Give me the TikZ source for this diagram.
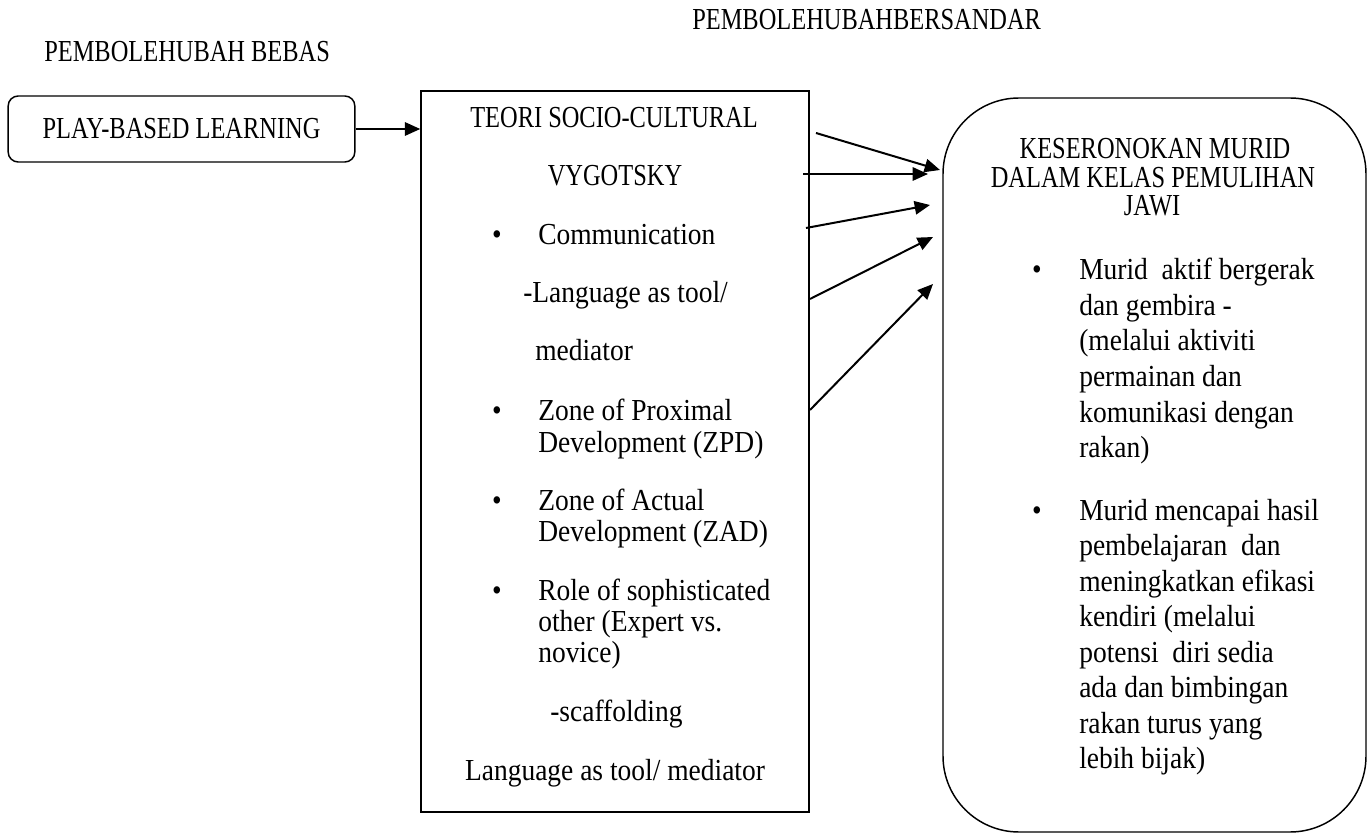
\documentclass[tikz,border=0pt]{standalone}
\usepackage{fontspec}
\setmainfont{Liberation Serif}[FakeStretch=0.9]
\newfontfamily\capsfont{Liberation Serif}[FakeStretch=0.8]
\usetikzlibrary{positioning, arrows.meta, calc}

\begin{document}
\begin{tikzpicture}[x=0.75pt, y=-0.75pt,
	txt/.style={inner sep=0pt, font=\fontsize{22.9}{24}\selectfont},
	caps/.style={font=\capsfont\fontsize{22.9}{24}\selectfont},
	lefttxt/.style={txt, anchor=base west},
	midtxt/.style={txt, anchor=base},
	arr/.style={-{Triangle[length=11.5pt, width=10pt]}, line width=1.5pt}]
	\useasboundingbox (0,0) rectangle (1372,834);
	
	% Headings
	\node[lefttxt, caps] (bebas) at (44,62) {PEMBOLEHUBAH BEBAS};
	\node[lefttxt, caps] (bersandar) at (692,30) {PEMBOLEHUBAHBERSANDAR};
	
	% Boxes
	\node[txt, caps, draw, line width=1.1pt, rounded corners=7.5pt, minimum width=260pt,
	minimum height=49.5pt] (play) at (181.5,129) {PLAY-BASED LEARNING};
	
	\node[draw, line width=1.1pt, minimum width=291pt,
	minimum height=540.75pt] (teori) at (615,451.5) {};
	
	\node[draw, line width=1.1pt, rounded corners=57pt, minimum width=317.25pt,
	minimum height=550.5pt] (seronok) at (1154.5,465) {};
	
	% Middle box text
	\node[midtxt, caps] (t1) at (614,128) {TEORI SOCIO-CULTURAL};
	\node[midtxt, caps] (t2) at (615,186) {VYGOTSKY};
	\node[midtxt] (b1) at (497,245) {•};
	\node[lefttxt] (t3) at (538,245) {Communication};
	\node[lefttxt] (t4) at (523,303) {-Language as tool/};
	\node[lefttxt] (t5) at (535,361) {mediator};
	\node[midtxt] (b2) at (497,421) {•};
	\node[lefttxt] (t6) at (538,421) {Zone of Proximal};
	\node[lefttxt] (t7) at (538,452) {Development (ZPD)};
	\node[midtxt] (b3) at (497,510) {•};
	\node[lefttxt] (t8) at (538,510) {Zone of Actual};
	\node[lefttxt] (t9) at (538,541) {Development (ZAD)};
	\node[midtxt] (b4) at (497,600) {•};
	\node[lefttxt] (t10) at (538,600) {Role of sophisticated};
	\node[lefttxt] (t11) at (538,631) {other (Expert vs.};
	\node[lefttxt] (t12) at (538,662) {novice)};
	\node[lefttxt] (t13) at (550,721) {-scaffolding};
	\node[midtxt] (t14) at (615,780) {Language as tool/ mediator};
	
	% Right box text
	\node[midtxt, caps] (r1) at (1155,159) {KESERONOKAN MURID};
	\node[midtxt, caps] (r2) at (1153,188) {DALAM KELAS PEMULIHAN};
	\node[midtxt, caps] (r3) at (1152,216) {JAWI};
	\node[midtxt] (rb1) at (1037,280) {•};
	\node[lefttxt] (r4) at (1079,280) {Murid~ aktif bergerak};
	\node[lefttxt] (r5) at (1079,315.5) {dan gembira -};
	\node[lefttxt] (r6) at (1079,351) {(melalui aktiviti};
	\node[lefttxt] (r7) at (1079,386.5) {permainan dan};
	\node[lefttxt] (r8) at (1079,422) {komunikasi dengan};
	\node[lefttxt] (r9) at (1079,457.5) {rakan)};
	\node[midtxt] (rb2) at (1037,520) {•};
	\node[lefttxt] (r10) at (1079,520) {Murid mencapai hasil};
	\node[lefttxt] (r11) at (1079,555.5) {pembelajaran~ dan};
	\node[lefttxt] (r12) at (1079,591) {meningkatkan efikasi};
	\node[lefttxt] (r13) at (1079,626.5) {kendiri (melalui};
	\node[lefttxt] (r14) at (1079,662) {potensi~ diri sedia};
	\node[lefttxt] (r15) at (1079,697.5) {ada dan bimbingan};
	\node[lefttxt] (r16) at (1079,733) {rakan turus yang};
	\node[lefttxt] (r17) at (1079,768.5) {lebih bijak)};
	
	% Arrow ends
	\coordinate (out1) at (816,133);
	\coordinate (out2) at (803,174);
	\coordinate (out3) at (806,228);
	\coordinate (out4) at (810,299);
	\coordinate (out5) at (810,410);
	\coordinate (in1) at (940,170);
	\coordinate (in2) at (928,174);
	\coordinate (in3) at (930,205);
	\coordinate (in4) at (933,237);
	\coordinate (in5) at (933,284);
	
	% Connections
	\draw[arr] (play.east) -- (play.east -| teori.west);
	\draw[arr] (out1) -- (in1);
	\draw[arr] (out2) -- (in2);
	\draw[arr] (out3) -- (in3);
	\draw[arr] (out4) -- (in4);
	\draw[arr] (out5) -- (in5);
\end{tikzpicture}
\end{document}
